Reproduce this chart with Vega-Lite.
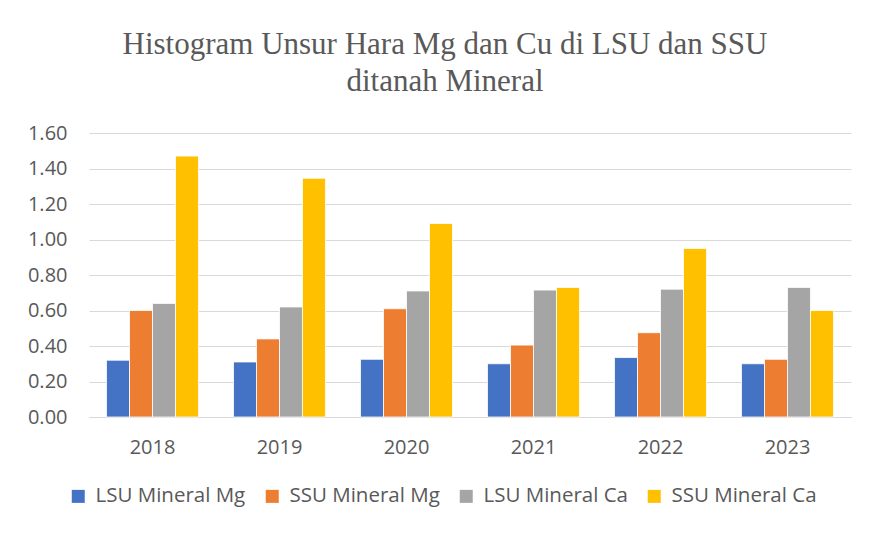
{
  "$schema": "https://vega.github.io/schema/vega-lite/v6.json",
  "width": 762,
  "height": 284,
  "autosize": "none",
  "padding": {"left": 89, "top": 133, "right": 21, "bottom": 116},
  "background": "white",
  "title": {
    "text": ["Histogram Unsur Hara Mg dan Cu di LSU dan SSU", "ditanah Mineral"],
    "font": "Liberation Serif",
    "fontSize": 31,
    "fontWeight": "normal",
    "color": "#595959",
    "lineHeight": 37,
    "anchor": "middle",
    "dx": -25,
    "offset": 25
  },
  "data": {
    "values": [
      {"year": "2018", "series": "LSU Mineral Mg", "value": 0.32},
      {"year": "2018", "series": "SSU Mineral Mg", "value": 0.60},
      {"year": "2018", "series": "LSU Mineral Ca", "value": 0.64},
      {"year": "2018", "series": "SSU Mineral Ca", "value": 1.47},
      {"year": "2019", "series": "LSU Mineral Mg", "value": 0.31},
      {"year": "2019", "series": "SSU Mineral Mg", "value": 0.44},
      {"year": "2019", "series": "LSU Mineral Ca", "value": 0.62},
      {"year": "2019", "series": "SSU Mineral Ca", "value": 1.345},
      {"year": "2020", "series": "LSU Mineral Mg", "value": 0.325},
      {"year": "2020", "series": "SSU Mineral Mg", "value": 0.61},
      {"year": "2020", "series": "LSU Mineral Ca", "value": 0.71},
      {"year": "2020", "series": "SSU Mineral Ca", "value": 1.09},
      {"year": "2021", "series": "LSU Mineral Mg", "value": 0.30},
      {"year": "2021", "series": "SSU Mineral Mg", "value": 0.405},
      {"year": "2021", "series": "LSU Mineral Ca", "value": 0.715},
      {"year": "2021", "series": "SSU Mineral Ca", "value": 0.73},
      {"year": "2022", "series": "LSU Mineral Mg", "value": 0.335},
      {"year": "2022", "series": "SSU Mineral Mg", "value": 0.475},
      {"year": "2022", "series": "LSU Mineral Ca", "value": 0.72},
      {"year": "2022", "series": "SSU Mineral Ca", "value": 0.95},
      {"year": "2023", "series": "LSU Mineral Mg", "value": 0.30},
      {"year": "2023", "series": "SSU Mineral Mg", "value": 0.325},
      {"year": "2023", "series": "LSU Mineral Ca", "value": 0.73},
      {"year": "2023", "series": "SSU Mineral Ca", "value": 0.60}
    ]
  },
  "mark": {"type": "bar", "stroke": "white", "strokeWidth": 0.8},
  "encoding": {
    "x": {
      "field": "year",
      "type": "nominal",
      "title": null,
      "scale": {"paddingInner": 0.276, "paddingOuter": 0.138},
      "axis": {
        "labelAngle": 0,
        "ticks": false,
        "domainColor": "#D9D9D9",
        "domainWidth": 1,
        "labelPadding": 20,
        "labelFont": "Open Sans",
        "labelFontSize": 20,
        "labelColor": "#595959"
      }
    },
    "xOffset": {
      "field": "series",
      "sort": ["LSU Mineral Mg", "SSU Mineral Mg", "LSU Mineral Ca", "SSU Mineral Ca"],
      "scale": {"paddingInner": 0, "paddingOuter": 0}
    },
    "y": {
      "field": "value",
      "type": "quantitative",
      "title": null,
      "scale": {"domain": [0, 1.6], "nice": false},
      "axis": {
        "values": [0, 0.2, 0.4, 0.6, 0.8, 1.0, 1.2, 1.4, 1.6],
        "format": ".2f",
        "domain": false,
        "ticks": false,
        "labelPadding": 22,
        "gridColor": "#D9D9D9",
        "gridWidth": 1,
        "labelFont": "Open Sans",
        "labelFontSize": 20,
        "labelColor": "#595959"
      }
    },
    "color": {
      "field": "series",
      "type": "nominal",
      "sort": ["LSU Mineral Mg", "SSU Mineral Mg", "LSU Mineral Ca", "SSU Mineral Ca"],
      "scale": {
        "domain": ["LSU Mineral Mg", "SSU Mineral Mg", "LSU Mineral Ca", "SSU Mineral Ca"],
        "range": ["#4472C4", "#ED7D31", "#A5A5A5", "#FFC000"]
      },
      "legend": {
        "title": null,
        "orient": "none",
        "direction": "horizontal",
        "columns": 4,
        "padding": 0,
        "legendX": -21,
        "legendY": 353,
        "symbolType": "square",
        "symbolSize": 169,
        "symbolStrokeWidth": 0,
        "labelFont": "Open Sans",
        "labelFontSize": 20.5,
        "labelColor": "#595959",
        "labelOffset": 7,
        "labelLimit": 300,
        "columnPadding": 16
      }
    }
  },
  "config": {"view": {"stroke": null}}
}
